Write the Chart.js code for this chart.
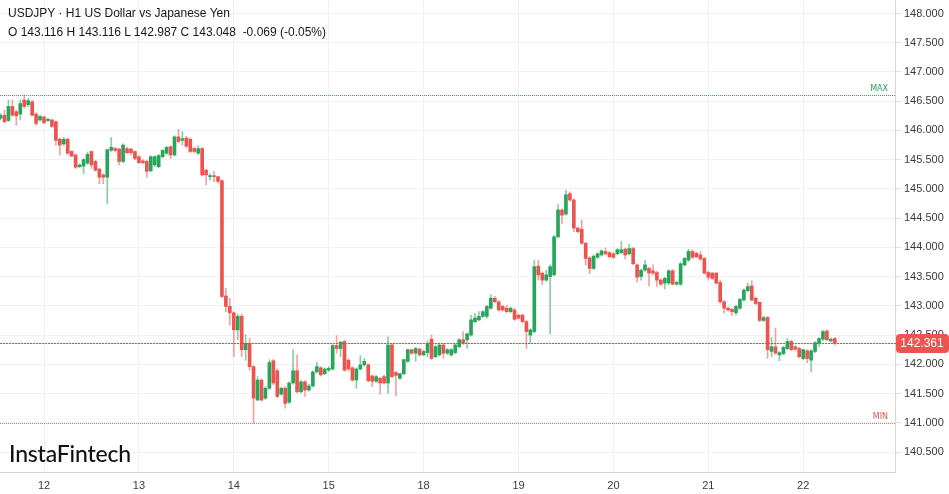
<!DOCTYPE html>
<html><head><meta charset="utf-8">
<script src="https://cdn.jsdelivr.net/npm/chart.js@4.4.1/dist/chart.umd.min.js"></script>
<style>
html,body{margin:0;padding:0;background:#fff;}
#wrap{position:relative;width:949px;height:494px;overflow:hidden;background:#fff;}
canvas{position:absolute;left:0;top:0;}
.hdr{position:absolute;left:8px;font:12px "Liberation Sans",Arial,sans-serif;color:#131722;white-space:pre;line-height:14px;}
#logo{position:absolute;left:9px;top:439px;font:500 23px Lato,"Open Sans",sans-serif;color:#111;letter-spacing:-0.2px;}
</style></head><body>
<div id="wrap"><canvas id="c" width="949" height="494"></canvas>
<div class="hdr" style="top:6px">USDJPY · H1 US Dollar vs Japanese Yen</div>
<div class="hdr" style="top:25px">O 143.116 H 143.116 L 142.987 C 143.048  -0.069 (-0.05%)</div>
<div id="logo">InstaFintech</div>
</div>
<script>
// x tick labels (day of month) and the hourly candle index where each day starts
const dayLabels = ['12','13','14','15','18','19','20','21','22'];
const dayStartIndex = [0,24,48,72,96,120,144,168,192];
const firstIndex = -11; // first hourly candle (day 11, 13:00)
const yTicks = [140.5,141,141.5,142,142.5,143,143.5,144,144.5,145,145.5,146,146.5,147,147.5,148];
const lastPrice = 142.361;

const opens = [
146.21,146.26,146.17,146.41,146.32,146.28,146.52,146.44,146.49,146.28,146.18,146.23,
146.17,146.18,146.15,145.85,145.77,145.85,145.64,145.58,145.38,145.39,145.44,145.64,
145.47,145.34,145.24,145.20,145.66,145.69,145.68,145.47,145.69,145.68,145.64,145.55,
145.48,145.47,145.31,145.41,145.38,145.55,145.61,145.72,145.58,145.89,145.83,145.87,
145.85,145.69,145.61,145.69,145.32,145.21,145.22,145.21,145.14,143.17,142.99,142.88,
142.59,142.82,142.25,142.36,141.96,141.39,141.73,141.42,141.59,142.06,141.89,141.49,
141.59,141.35,141.68,141.89,141.53,141.70,141.56,141.63,141.87,141.94,141.84,141.90,
141.92,142.32,142.27,142.39,142.07,141.94,141.73,141.92,141.99,141.99,141.80,141.71,
141.76,141.79,141.68,142.33,141.86,141.76,141.84,142.05,142.25,142.19,142.26,142.16,
142.20,142.43,142.13,142.16,142.33,142.19,142.16,142.20,142.30,142.42,142.42,142.50,
142.73,142.76,142.82,142.82,142.96,143.13,143.07,142.99,142.96,142.90,142.93,142.84,
142.84,142.73,142.50,142.56,143.68,143.56,143.44,143.50,143.53,144.18,144.64,144.57,
144.92,144.81,144.33,144.31,144.07,143.82,143.64,143.83,143.87,143.93,143.91,143.89,
143.89,143.91,143.97,143.89,143.98,143.70,143.50,143.61,143.64,143.60,143.57,143.44,
143.39,143.39,143.60,143.37,143.37,143.70,143.78,143.93,143.90,143.87,143.81,143.57,
143.56,143.56,143.40,143.07,142.96,142.94,142.88,142.96,143.10,143.26,143.34,143.13,
143.06,142.75,142.80,142.22,142.30,142.16,142.18,142.27,142.39,142.30,142.27,142.10,
142.23,142.07,142.22,142.36,142.43,142.57,142.40,142.44];
const highs = [
146.29,146.35,146.52,146.52,146.35,146.52,146.61,146.55,146.52,146.30,146.26,146.25,
146.21,146.19,146.16,145.87,145.88,145.87,145.66,145.60,145.43,145.52,145.63,145.65,
145.49,145.35,145.26,145.68,145.88,145.71,145.70,145.77,145.71,145.70,145.65,145.57,
145.50,145.49,145.57,145.57,145.59,145.67,145.73,145.74,145.91,146.02,145.98,145.90,
145.87,145.71,145.74,145.71,145.34,145.26,145.30,145.22,145.16,143.30,143.13,142.90,
142.86,142.86,142.51,142.45,141.98,141.79,141.75,141.62,142.08,142.08,141.92,141.61,
141.62,141.70,142.25,142.16,141.73,141.72,141.66,141.89,142.03,141.96,141.94,141.96,
142.34,142.49,142.39,142.41,142.09,141.96,141.94,142.15,142.10,142.01,141.82,141.81,
141.78,141.81,142.47,142.35,141.88,141.85,142.09,142.26,142.26,142.29,142.28,142.24,
142.40,142.50,142.33,142.36,142.35,142.27,142.27,142.35,142.44,142.56,142.54,142.84,
142.87,142.90,142.92,143.01,143.19,143.16,143.09,143.01,143.01,142.98,142.96,142.86,
142.86,142.75,142.61,143.78,143.78,143.58,143.61,143.70,144.20,144.73,144.66,144.98,
144.95,144.83,144.35,144.47,144.09,143.84,143.87,143.91,143.96,143.99,143.93,143.91,
143.98,144.10,143.99,144.05,144.00,143.72,143.63,143.78,143.66,143.70,143.59,143.46,
143.49,143.62,143.62,143.42,143.74,143.83,143.97,143.96,143.92,143.93,143.83,143.59,
143.57,143.57,143.44,143.09,142.98,142.96,143.01,143.13,143.29,143.39,143.43,143.15,
143.07,142.82,142.82,142.46,142.62,142.22,142.31,142.44,142.41,142.32,142.29,142.26,
142.25,142.25,142.39,142.46,142.58,142.59,142.45,142.46];
const lows = [
146.18,146.13,146.15,146.24,146.09,146.18,146.38,146.41,146.25,146.09,146.16,146.12,
146.15,146.05,145.75,145.58,145.74,145.59,145.55,145.35,145.36,145.26,145.42,145.35,
145.30,145.09,145.09,144.75,145.64,145.63,145.41,145.45,145.60,145.58,145.50,145.43,
145.43,145.20,145.29,145.38,145.36,145.53,145.59,145.52,145.56,145.79,145.75,145.71,
145.62,145.62,145.59,145.22,145.07,145.15,145.12,145.10,143.14,142.90,142.67,142.13,
142.42,142.13,142.07,141.90,140.99,141.38,141.37,141.40,141.57,141.65,141.43,141.47,
141.25,141.33,141.66,141.51,141.51,141.45,141.54,141.61,141.85,141.80,141.82,141.88,
141.90,142.19,142.13,141.88,141.89,141.71,141.59,141.90,141.97,141.70,141.62,141.69,
141.49,141.66,141.50,141.77,141.46,141.74,141.82,142.03,142.17,142.05,142.14,142.15,
142.13,142.08,142.11,142.14,142.10,142.17,142.14,142.18,142.28,142.34,142.27,142.48,
142.71,142.74,142.80,142.79,142.94,143.05,142.91,142.91,142.88,142.88,142.75,142.77,
142.71,142.27,142.36,142.54,143.44,143.36,143.42,142.52,143.51,144.16,144.41,144.55,
144.79,144.27,144.25,144.05,143.70,143.55,143.62,143.81,143.85,143.87,143.82,143.81,
143.87,143.89,143.80,143.87,143.70,143.41,143.44,143.59,143.34,143.53,143.33,143.35,
143.29,143.36,143.36,143.35,143.35,143.68,143.76,143.81,143.82,143.78,143.54,143.44,
143.45,143.37,143.05,142.88,142.91,142.83,142.84,142.94,143.08,143.24,143.08,143.02,
142.73,142.73,142.10,142.13,142.17,142.06,142.16,142.25,142.23,142.24,142.11,142.08,
142.03,141.87,142.20,142.30,142.41,142.40,142.38,142.33];
const closes = [
146.26,146.15,146.41,146.26,146.25,146.46,146.41,146.51,146.26,146.12,146.24,146.13,
146.19,146.07,145.83,145.75,145.85,145.61,145.56,145.37,145.41,145.50,145.59,145.41,
145.32,145.20,145.20,145.67,145.71,145.66,145.47,145.75,145.62,145.62,145.52,145.45,
145.45,145.30,145.55,145.55,145.57,145.66,145.71,145.58,145.89,145.81,145.86,145.73,
145.64,145.64,145.69,145.24,145.24,145.22,145.21,145.13,143.16,142.99,142.88,142.59,
142.82,142.25,142.36,141.96,141.42,141.73,141.39,141.59,142.03,141.68,141.45,141.59,
141.33,141.68,141.89,141.53,141.70,141.56,141.63,141.87,141.96,141.82,141.92,141.93,
142.32,142.27,142.38,141.90,141.92,141.73,141.92,141.99,142.05,141.72,141.71,141.79,
141.68,141.68,142.33,141.79,141.81,141.84,142.08,142.25,142.19,142.27,142.16,142.22,
142.36,142.10,142.30,142.33,142.19,142.25,142.25,142.33,142.42,142.36,142.52,142.76,
142.79,142.82,142.90,142.99,143.13,143.07,142.93,142.93,142.90,142.96,142.77,142.79,
142.73,142.56,142.59,143.67,143.53,143.44,143.53,143.67,144.18,144.64,144.55,144.90,
144.81,144.33,144.27,144.07,143.81,143.64,143.85,143.89,143.94,143.89,143.84,143.83,
143.96,143.96,143.87,143.98,143.72,143.49,143.61,143.70,143.56,143.56,143.44,143.37,
143.47,143.60,143.37,143.40,143.72,143.81,143.93,143.83,143.84,143.80,143.56,143.49,
143.47,143.39,143.07,142.96,142.93,142.90,142.99,143.11,143.27,143.33,143.10,143.04,
142.75,142.80,142.25,142.30,142.19,142.20,142.29,142.39,142.25,142.26,142.13,142.25,
142.10,142.23,142.37,142.44,142.56,142.42,142.43,142.361];

const candleIndex = opens.map((_, k) => firstIndex + k);
const UP = '#26a65b', DOWN = '#ef5350';
const UPW = 'rgba(38,166,91,0.55)', DOWNW = 'rgba(239,83,80,0.55)';
const isUp = k => closes[k] >= opens[k];

const levelsPlugin = {
  id: 'levels',
  afterDatasetsDraw(chart) {
    const {ctx, chartArea: a, scales: {y}} = chart;
    const maxV = Math.max(...highs), minV = Math.min(...lows);
    // dotted / dashed horizontal level drawn as crisp 1px rectangles
    const hline = (v, color, on, step) => {
      const py = Math.round(y.getPixelForValue(v));
      ctx.save(); ctx.fillStyle = color;
      for (let px = Math.floor(a.left); px < a.right; px += step) ctx.fillRect(px, py, on, 1);
      ctx.restore();
      return py;
    };
    const pMax = hline(maxV, '#2fae66', 1, 2);
    const pMin = hline(minV, '#f07070', 1, 2);
    hline(lastPrice, '#ef4040', 2, 3);
    ctx.save();
    ctx.font = '8px "DejaVu Sans", sans-serif';
    ctx.textAlign = 'right'; ctx.textBaseline = 'bottom';
    ctx.fillStyle = '#26a65b'; ctx.fillText('MAX', a.right - 7, pMax - 2);
    ctx.fillStyle = '#ef5350'; ctx.fillText('MIN', a.right - 7, pMin - 2);
    ctx.restore();
  },
  afterDraw(chart) {
    const {ctx, chartArea: a, scales: {y}} = chart;
    const py = Math.round(y.getPixelForValue(lastPrice));
    ctx.save();
    ctx.fillStyle = '#ef5350';
    ctx.beginPath(); ctx.roundRect(a.right + 1, py - 9, 53, 19, 4); ctx.fill();
    ctx.fillStyle = '#fff'; ctx.font = '12px "Liberation Sans", Arial, sans-serif';
    ctx.textAlign = 'center'; ctx.textBaseline = 'middle';
    ctx.fillText(lastPrice.toFixed(3), a.right + 27, py + 1);
    ctx.restore();
  }
};

new Chart(document.getElementById('c'), {
  type: 'bar',
  data: {
    datasets: [
      { label: 'body', data: candleIndex.map((x, k) => ({x, y: [opens[k], closes[k]]})),
        backgroundColor: c => isUp(c.dataIndex) ? UP : DOWN,
        barThickness: 3, minBarLength: 1, grouped: false, borderWidth: 0 },
      { label: 'wick', data: candleIndex.map((x, k) => ({x, y: [lows[k], highs[k]]})),
        backgroundColor: c => isUp(c.dataIndex) ? UPW : DOWNW,
        barThickness: 1, grouped: false, borderWidth: 0 }
    ]
  },
  options: {
    responsive: false, animation: false,
    layout: { padding: 0 },
    plugins: { legend: { display: false }, tooltip: { enabled: false } },
    scales: {
      x: {
        type: 'linear', min: -11.13, max: 215.22, offset: false,
        afterBuildTicks: s => { s.ticks = dayStartIndex.map(v => ({value: v})); },
        afterFit: s => { s.height = 22; s.paddingLeft = 0; s.paddingRight = 0; },
        ticks: { callback: v => dayLabels[dayStartIndex.indexOf(v)], color: '#3a3a3a',
                 font: { size: 11, family: '"Liberation Sans", Arial, sans-serif' },
                 padding: 7, maxRotation: 0, autoSkip: false },
        grid: { color: '#eff1f4', drawTicks: false, offset: false },
        border: { color: '#d3d7dc' }
      },
      y: {
        position: 'right', min: 140.158, max: 148.231,
        afterBuildTicks: s => { s.ticks = yTicks.map(v => ({value: v})); },
        afterFit: s => { s.width = 54; s.paddingTop = 0; s.paddingBottom = 0; },
        ticks: { callback: v => Number(v).toFixed(3), color: '#3a3a3a',
                 font: { size: 11, family: '"Liberation Sans", Arial, sans-serif' }, padding: 3 },
        grid: { color: '#eff1f4', tickLength: 6, tickColor: '#dde0e4' },
        border: { color: '#d3d7dc' }
      }
    }
  },
  plugins: [levelsPlugin]
});
</script>
</body></html>
